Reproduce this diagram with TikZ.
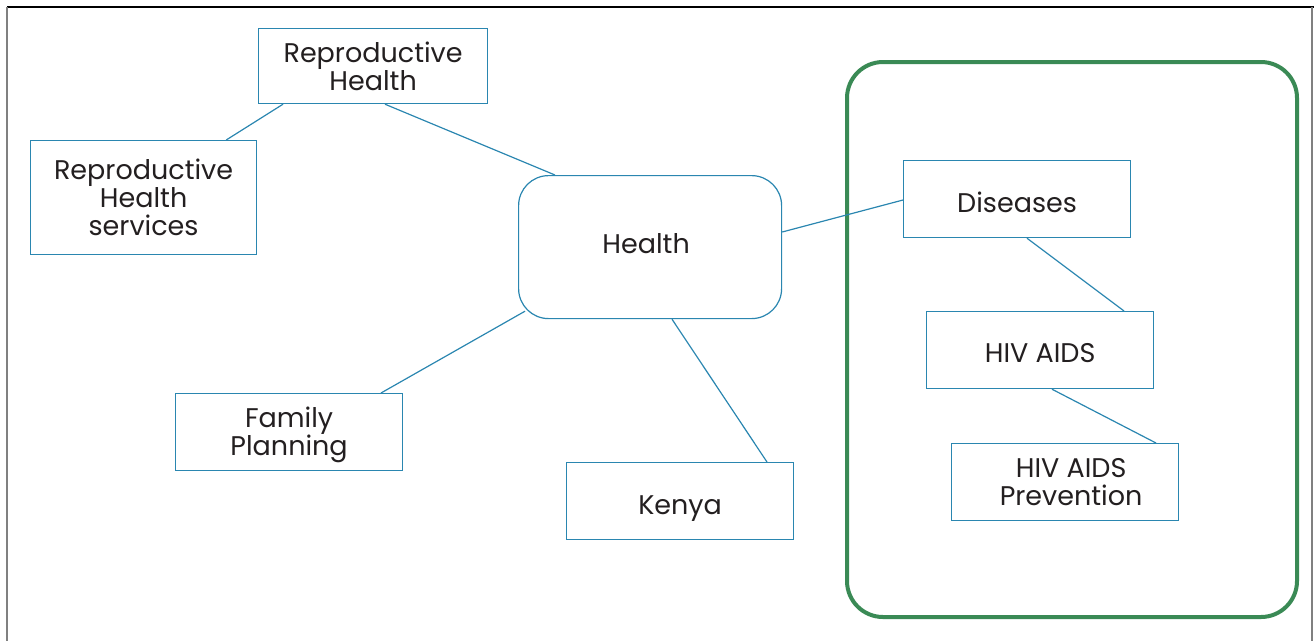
\documentclass[tikz,border=0pt]{standalone}
\usepackage{fontspec}
\setmainfont{Poppins}
\usetikzlibrary{calc}
\definecolor{lineblue}{HTML}{2A86B0}
\definecolor{txtgray}{HTML}{231F20}
\definecolor{grpgreen}{HTML}{3A8A55}
\newcommand{\vshift}[2]{\raisebox{#1}[\height][\depth]{#2}}
\begin{document}
\begin{tikzpicture}[x=1pt,y=-1pt,
  box/.style={draw=lineblue,line width=1.2pt,fill=white,inner sep=0pt,align=center,
    text=txtgray,font=\fontsize{27}{28}\selectfont,anchor=north west},
  link/.style={draw=lineblue,line width=1.2pt}]
\useasboundingbox (0,0) rectangle (1314,641);
% frame
\draw[black,line width=1.3pt] (7,7) -- (1314,7);
\draw[gray,line width=2pt] (7,7) -- (7,641);
\draw[gray,line width=2pt] (1312,7) -- (1312,641);
% group
\node[draw=grpgreen,line width=4pt,rounded corners=36pt,minimum width=450pt,minimum height=555pt,anchor=north west,inner sep=0pt] (grp) at (845,60) {};
% nodes
\node[box,minimum width=229pt,minimum height=75pt] (rh) at (258,28) {Reproductive\\Health};
\node[box,minimum width=226pt,minimum height=114pt] (rhs) at (30,140) {Reproductive\\Health\\services};
\node[box,rounded corners=30pt,minimum width=263pt,minimum height=143pt] (health) at (518,175) {\vshift{3pt}{Health}\hspace*{8pt}};
\node[box,minimum width=227pt,minimum height=77pt] (fp) at (175,393) {\vshift{-3pt}{Family}\\\vshift{-3pt}{Planning}};
\node[box,minimum width=227pt,minimum height=77pt] (kenya) at (566,462) {\vshift{-7pt}{Kenya}};
\node[box,minimum width=227pt,minimum height=77pt] (dis) at (903,160) {\vshift{-3pt}{Diseases}};
\node[box,minimum width=227pt,minimum height=77pt] (hiv) at (926,311) {\vshift{-3pt}{HIV AIDS}};
\node[box,minimum width=227pt,minimum height=77pt] (prev) at (951,443) {\hspace*{12pt}HIV AIDS\\\hspace*{12pt}Prevention};
% connectors
\draw[link] ($(rh.south west)+(25,0)$) -- ($(rhs.north east)+(-31,0)$);
\draw[link] ($(rh.south west)+(127,0)$) -- ($(health.north west)+(37,0)$);
\draw[link] ($(health.north east)+(0,57)$) -- ($(dis.north west)+(0,40)$);
\draw[link] ($(health.south west)+(7,-8)$) -- ($(fp.north west)+(206,0)$);
\draw[link] ($(health.south west)+(154,0)$) -- ($(kenya.north west)+(201,0)$);
\draw[link] ($(dis.south west)+(124,0)$) -- ($(hiv.north west)+(198,0)$);
\draw[link] ($(hiv.south west)+(126,0)$) -- ($(prev.north west)+(205,0)$);
\end{tikzpicture}
\end{document}
